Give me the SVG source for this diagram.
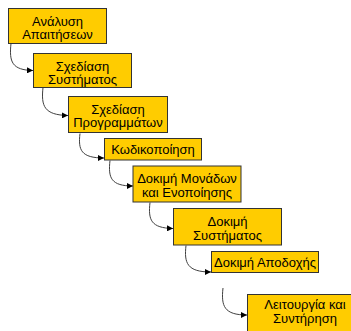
<svg xmlns="http://www.w3.org/2000/svg" width="351" height="331" viewBox="0 0 351 331">
  <style>
    .box rect { fill: #FFCC00; stroke: #333333; stroke-width: 1; }
    .box text { font-family: "Liberation Sans", Arial, sans-serif; font-size: 13px; fill: #000000; text-anchor: middle; }
    .link { fill: none; stroke: #404040; stroke-width: 1; marker-end: url(#arrow); }
  </style>
  <defs>
    <marker id="arrow" viewBox="0 0 10 10" refX="10" refY="5" markerWidth="6" markerHeight="6" markerUnits="userSpaceOnUse" orient="auto">
      <path d="M0,0 L10,5 L0,10 z" fill="#000000"/>
    </marker>
  </defs>

  <rect width="351" height="331" fill="#FFFFFF"/>

  <!-- waterfall steps, each one down and to the right of the previous -->
  <g id="connectors">
    <path class="link" d="M11,43.5 C9,62 12,70 33,70.5"/>
    <path class="link" d="M43,87.5 C41,106 44,115 68,115.5"/>
    <path class="link" d="M80,133.5 C78,150 81,158 104,158"/>
    <path class="link" d="M110,160.5 C108,178 111,186 133,186"/>
    <path class="link" d="M150,202.5 C148,220 151,228 173,228.5"/>
    <path class="link" d="M186,245.5 C184,263 187,272 211,272"/>
    <path class="link" d="M223,288 C221,306 224,315 247,315"/>
  </g>

  <g id="analysis" class="box">
    <rect x="8.5" y="8.5" width="98" height="35"/>
    <text x="57.5" y="26">Ανάλυση</text>
    <text x="57.5" y="39">Απαιτήσεων</text>
  </g>

  <g id="system-design" class="box">
    <rect x="33.5" y="53.5" width="98" height="34"/>
    <text x="82.5" y="70.5">Σχεδίαση</text>
    <text x="82.5" y="83.5">Συστήματος</text>
  </g>

  <g id="program-design" class="box">
    <rect x="68.5" y="96.5" width="99" height="36"/>
    <text x="118" y="113.5">Σχεδίαση</text>
    <text x="118" y="127">Προγραμμάτων</text>
  </g>

  <g id="coding" class="box">
    <rect x="104.5" y="138.5" width="97" height="21.5"/>
    <text x="153" y="153.5">Κωδικοποίηση</text>
  </g>

  <g id="unit-integration-test" class="box">
    <rect x="133" y="166" width="108" height="36"/>
    <text x="187" y="183">Δοκιμή Μονάδων</text>
    <text x="187" y="196.5">και Ενοποίησης</text>
  </g>

  <g id="system-test" class="box">
    <rect x="173.5" y="208.5" width="108" height="36.5"/>
    <text x="227.5" y="226">Δοκιμή</text>
    <text x="227.5" y="239.5">Συστήματος</text>
  </g>

  <g id="acceptance-test" class="box">
    <rect x="211.5" y="251.5" width="107" height="21"/>
    <text x="265" y="267">Δοκιμή Αποδοχής</text>
  </g>

  <g id="operation-maintenance" class="box">
    <rect x="247.5" y="294.5" width="115" height="42"/>
    <text x="305" y="309">Λειτουργία και</text>
    <text x="305" y="323">Συντήρηση</text>
  </g>
</svg>
